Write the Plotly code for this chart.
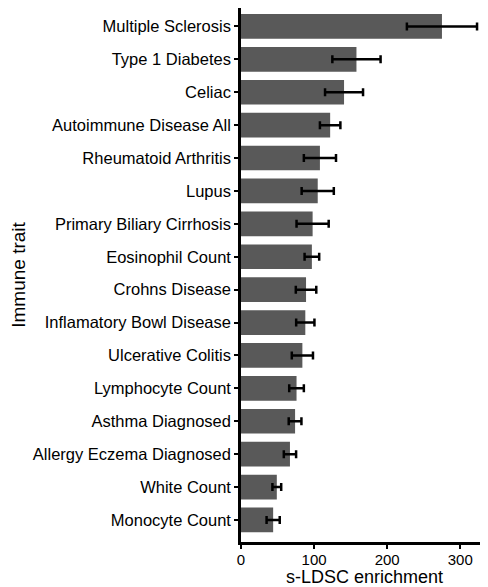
import plotly.graph_objects as go

# Immune traits, top to bottom as drawn
traits = [
    "Multiple Sclerosis", "Type 1 Diabetes", "Celiac", "Autoimmune Disease All",
    "Rheumatoid Arthritis", "Lupus", "Primary Biliary Cirrhosis", "Eosinophil Count",
    "Crohns Disease", "Inflamatory Bowl Disease", "Ulcerative Colitis",
    "Lymphocyte Count", "Asthma Diagnosed", "Allergy Eczema Diagnosed",
    "White Count", "Monocyte Count",
]
# s-LDSC enrichment estimates and their standard errors
enrichment = [275, 158, 141, 122, 108, 105, 98, 97, 89, 88, 84, 76, 74, 67, 49, 44]
enrichment_se = [48, 33, 26, 14, 22, 22, 22, 10, 14, 12.5, 14.5, 10, 8.7, 8.4, 6, 9]

font = "Liberation Sans, Arial, Helvetica, sans-serif"

fig = go.Figure()
fig.add_trace(go.Bar(
    x=enrichment,
    y=traits,
    orientation="h",
    width=0.75,
    marker=dict(color="#595959", line=dict(width=0)),
    error_x=dict(type="data", array=enrichment_se, visible=True,
                 color="black", thickness=2.5, width=4),
))

# page body adds an 8px offset, so the figure is a bit smaller than the window
fig.update_layout(
    width=480, height=579,
    margin=dict(l=233, r=0, t=0, b=45),
    plot_bgcolor="white", paper_bgcolor="white",
    showlegend=False,
    font=dict(family=font, size=16, color="black"),
    xaxis=dict(
        range=[0, 338], tickvals=[0, 100, 200, 300],
        showgrid=False, zeroline=False,
        showline=True, linecolor="black", linewidth=2.5,
        ticks="outside", ticklen=4, tickwidth=2, tickcolor="black",
        tickfont=dict(size=15), ticklabelstandoff=-2,
        title=dict(text="s-LDSC enrichment", font=dict(size=18), standoff=0),
    ),
    yaxis=dict(
        range=[15.67, -0.56],
        showgrid=False, zeroline=False,
        showline=True, linecolor="black", linewidth=2.5,
        ticks="outside", ticklen=4, tickwidth=2, tickcolor="black",
        tickfont=dict(size=16.5),
        title=dict(text="Immune trait", font=dict(size=19), standoff=8),
    ),
)

fig.write_html("out.html")
